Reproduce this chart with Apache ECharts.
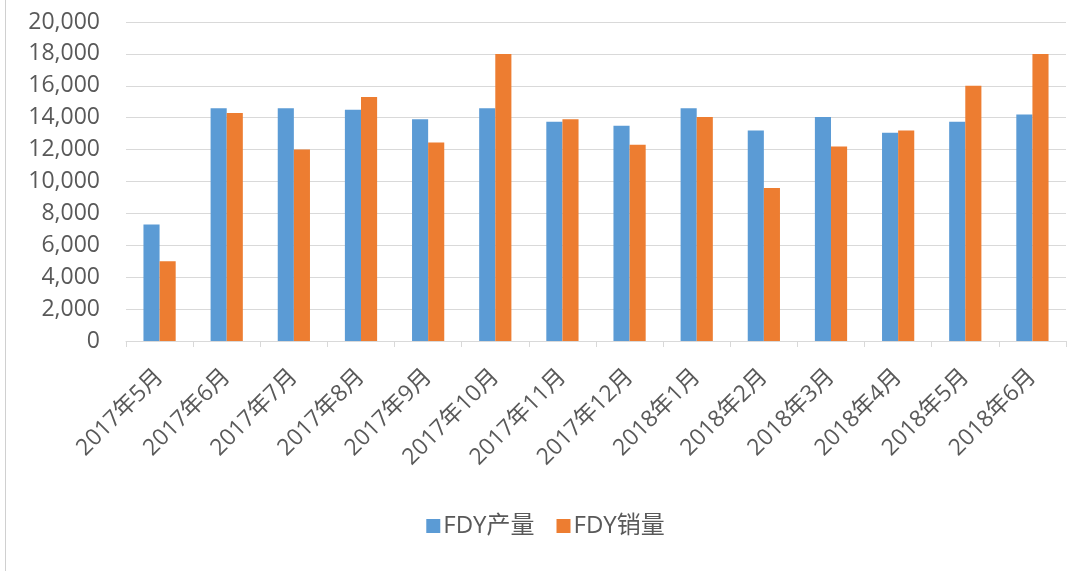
<!DOCTYPE html>
<html>
<head>
<meta charset="utf-8">
<script src="https://cdn.jsdelivr.net/npm/echarts@6/dist/echarts.min.js"></script>
<style>
  html, body { margin: 0; padding: 0; background: #fff; }
  #main { width: 1091px; height: 571px; }
  #frame { position: absolute; left: 5px; top: 0; width: 1px; height: 571px; background: #d0d0d0; }
</style>
</head>
<body>
<div id="frame"></div>
<div id="main"></div>
<script>
var months = ['2017年5月', '2017年6月', '2017年7月', '2017年8月', '2017年9月', '2017年10月', '2017年11月',
  '2017年12月', '2018年1月', '2018年2月', '2018年3月', '2018年4月', '2018年5月', '2018年6月'];
// FDY产量
var output = [7300, 14600, 14600, 14500, 13900, 14600, 13750, 13500, 14600, 13200, 14050, 13050, 13750, 14200];
// FDY销量
var sales = [5000, 14300, 12000, 15300, 12450, 18000, 13900, 12300, 14050, 9600, 12200, 13200, 16000, 18000];

var chart = echarts.init(document.getElementById('main'));
var font = '"Open Sans", "Noto Sans CJK SC", sans-serif';

var option = {
  animation: false,
  textStyle: { fontFamily: font },
  grid: { left: 126, right: 25, top: 22, bottom: 230, containLabel: false },
  legend: {
    bottom: 28,
    left: 'center',
    itemWidth: 14,
    itemHeight: 14,
    itemGap: 22,
    icon: 'rect',
    textStyle: { color: '#595959', fontSize: 24, fontFamily: font, padding: [0, 0, 0, -2] },
    data: ['FDY产量', 'FDY销量']
  },
  xAxis: {
    type: 'category',
    data: months,
    axisLine: { lineStyle: { color: '#d9d9d9', width: 1 } },
    axisTick: { show: true, length: 6, lineStyle: { color: '#d9d9d9' } },
    axisLabel: { rotate: 45, color: '#595959', fontSize: 23, margin: 32, interval: 0 }
  },
  yAxis: {
    type: 'value',
    min: 0,
    max: 20000,
    interval: 2000,
    axisLine: { show: false },
    axisTick: { show: false },
    splitLine: { lineStyle: { color: '#d9d9d9', width: 1 } },
    axisLabel: {
      color: '#595959',
      fontSize: 23,
      margin: 26,
      formatter: function (v) { return v.toLocaleString('en-US'); }
    }
  },
  series: [
    {
      name: 'FDY产量',
      type: 'bar',
      data: output,
      barGap: '0%',
      barCategoryGap: '52%',
      itemStyle: { color: '#5b9bd5' }
    },
    {
      name: 'FDY销量',
      type: 'bar',
      data: sales,
      itemStyle: { color: '#ed7d31' }
    }
  ]
};
chart.setOption(option);
</script>
</body>
</html>
